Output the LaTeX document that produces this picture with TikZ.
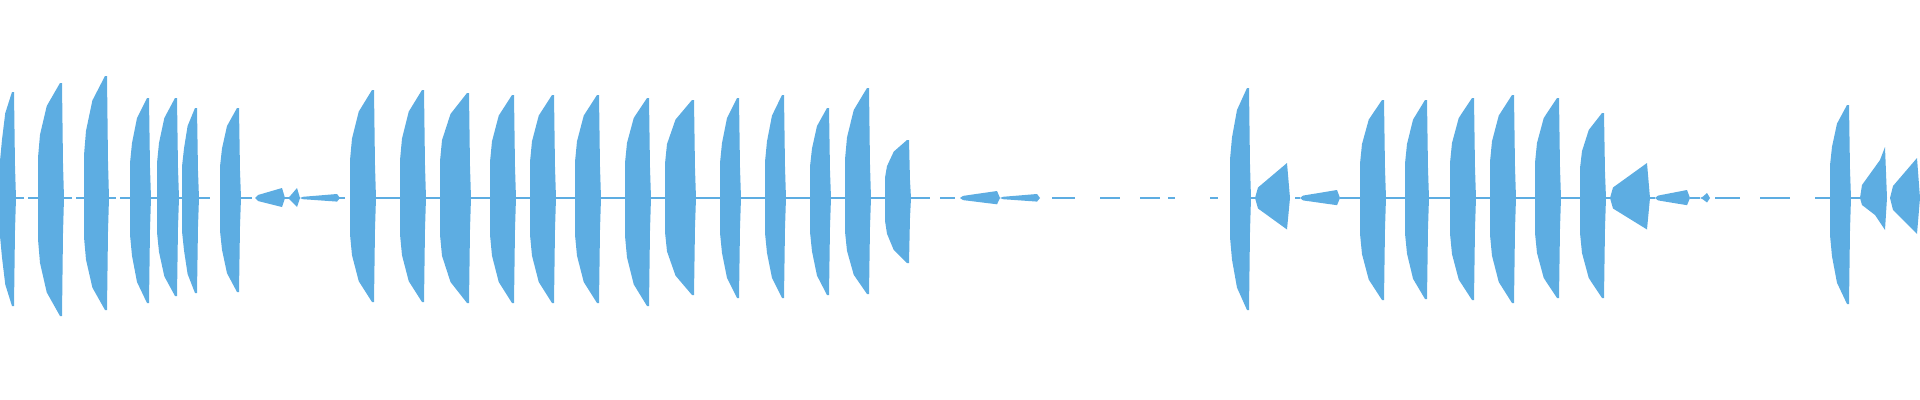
\documentclass[tikz,border=0pt]{standalone}
\definecolor{wave}{HTML}{5DADE2}
\begin{document}
\begin{tikzpicture}[x=0.01cm,y=-0.01cm]
\useasboundingbox (0,0) rectangle (1920,400);
\tikzset{wav/.style={fill=wave,draw=none}, sil/.style={draw=wave,line width=0.4pt}}
\foreach \s/\e in {16/24,28/38,63/72,76/84,108/116,120/130,150/157,178/182,198/210,240/252,285/292,306/320,330/345,375/400,425/440,470/490,515/530,555/575,600/625,650/665,695/720,740/765,785/810,830/845,870/885,910/930,940/955,1052/1075,1100/1120,1140/1160,1168/1175,1210/1218,1250/1256,1295/1300,1340/1360,1385/1405,1428/1450,1475/1490,1515/1535,1560/1580,1605/1610,1650/1655,1690/1700,1715/1740,1760/1790,1815/1830,1850/1860}
  {\draw[sil] (\s,198)--(\e,198);}
\foreach \s/\e/\a/\b in {0/15/106/108,38/63/115/118,84/108/122/112,130/150/100/105,157/178/100/98,182/198/90/95,220/240/90/94,
 350/375/108/104,400/425/108/104,440/470/105/105,490/515/103/105,530/555/103/105,575/600/103/105,625/650/100/108,665/695/98/97,
 720/740/100/100,765/785/103/100,810/830/90/97,845/870/110/96,885/910/58/65,
 1230/1250/110/112,1360/1385/98/102,1405/1428/98/101,1450/1475/100/102,1490/1515/103/105,1535/1560/100/100,1580/1605/85/100,1830/1850/93/106}
{\fill[wav] (\s,198) -- (\s,198-0.35*\a) -- (\s+2,198-0.55*\a) -- (\s+0.35*\e-0.35*\s,198-0.8*\a) -- (\e-3,198-\a) -- (\e-1,198-\a) -- (\e,198-0.3*\a) -- (\e+1,198)
 -- (\e,198+0.3*\b) -- (\e-1,198+\b) -- (\e-3,198+\b) -- (\s+0.35*\e-0.35*\s,198+0.8*\b) -- (\s+2,198+0.55*\b) -- (\s,198+0.35*\b) -- cycle;}
\foreach \s/\e/\a in {255/285/10,288/300/10,300/340/4,960/1000/7,1000/1040/4,1255/1290/35,1300/1340/8,1610/1650/35,1655/1690/8,1890/1920/40,1700/1710/5}
{\fill[wav] (\s,198) -- (\s+3,198-0.3*\a) -- (\e-3,198-\a) -- (\e,198) -- (\e-3,198+0.9*\a) -- (\s+3,198+0.3*\a) -- cycle;}
\fill[wav] (1860,198)--(1862,185)--(1880,160)--(1885,147)--(1887,198)--(1885,230)--(1875,215)--(1862,205)--cycle;
\end{tikzpicture}
\end{document}
